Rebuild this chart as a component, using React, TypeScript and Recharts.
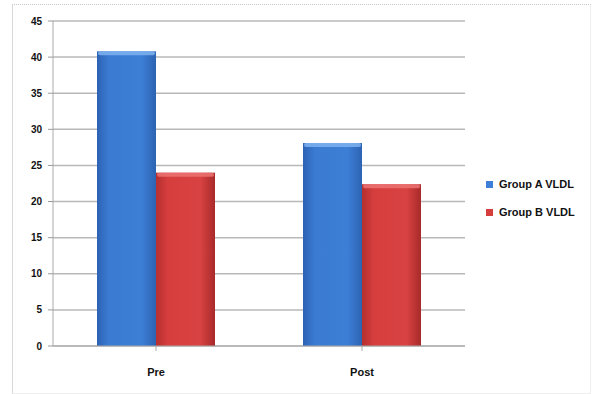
import { BarChart, Bar, XAxis, YAxis, CartesianGrid } from "recharts";

// Pre / Post VLDL values for the two groups
const categories = ["Pre", "Post"];
const groupA = [40.8, 28.1];
const groupB = [24.0, 22.4];
const seriesNames = ["Group A VLDL", "Group B VLDL"];
const yTicks = [0, 5, 10, 15, 20, 25, 30, 35, 40, 45];

const data = categories.map((name, i) => ({ name, a: groupA[i], b: groupB[i] }));

const FONT = '"Liberation Sans", Arial, sans-serif';

// Excel-style bar: horizontal gradient body plus a lighter bevel on top
function BevelBar(props: any) {
  const { x, y, width, height, gid, cap } = props;
  if (!height || height <= 0) return null;
  return (
    <g>
      <rect x={x} y={y} width={width} height={height} fill={`url(#${gid})`} />
      <rect x={x + 1} y={y} width={width - 2} height={4} rx={2} fill={cap} opacity={0.85} />
    </g>
  );
}

export default function App() {
  return (
    <div style={{ position: "absolute", left: 0, top: 0, width: 592, height: 394, background: "#fff", fontFamily: FONT }}>
      {/* light dotted frame around the chart area */}
      <div
        style={{
          position: "absolute",
          left: 12,
          top: 4,
          width: 577,
          height: 388,
          borderTop: "1px dotted #c8c8c8",
          borderLeft: "1px solid #d8d8d8",
          borderRight: "1px solid #eee",
          borderBottom: "1px solid #eee",
        }}
      />
      <div style={{ position: "absolute", left: 0, top: 0 }}>
        <BarChart
          width={592}
          height={394}
          data={data}
          margin={{ top: 21, right: 127, left: 8, bottom: 18 }}
          barCategoryGap={44}
          barGap={0}
        >
          <defs>
            <linearGradient id="gA" x1="0" y1="0" x2="1" y2="0">
              <stop offset="0%" stopColor="#2c62b4" />
              <stop offset="20%" stopColor="#3b7bd2" />
              <stop offset="75%" stopColor="#3d7fd6" />
              <stop offset="100%" stopColor="#2d63b2" />
            </linearGradient>
            <linearGradient id="gB" x1="0" y1="0" x2="1" y2="0">
              <stop offset="0%" stopColor="#b52f2f" />
              <stop offset="20%" stopColor="#d63e3e" />
              <stop offset="75%" stopColor="#d94242" />
              <stop offset="100%" stopColor="#a92a2a" />
            </linearGradient>
          </defs>
          <CartesianGrid vertical={false} stroke="#b8b8b8" strokeWidth={1.5} />
          <XAxis
            dataKey="name"
            stroke="#aaa"
            tickLine={{ stroke: "#aaa" }}
            tickSize={5}
            height={30}
            interval={0}
            tick={{ fill: "#111", fontSize: 11, fontWeight: 700, fontFamily: FONT, dy: 15 }}
          />
          <YAxis
            domain={[0, 45]}
            ticks={yTicks}
            width={45}
            stroke="#aaa"
            tickSize={5}
            tickLine={{ stroke: "#999" }}
            interval={0}
            tick={{ fill: "#111", fontSize: 10, fontWeight: 700, fontFamily: FONT, dx: -4 }}
          />
          <Bar
            dataKey="a"
            name={seriesNames[0]}
            isAnimationActive={false}
            shape={(p: any) => <BevelBar {...p} gid="gA" cap="#7fb3f0" />}
          />
          <Bar
            dataKey="b"
            name={seriesNames[1]}
            isAnimationActive={false}
            shape={(p: any) => <BevelBar {...p} gid="gB" cap="#ec7373" />}
          />
        </BarChart>
      </div>
      {/* legend */}
      {seriesNames.map((n, i) => (
        <div
          key={n}
          style={{
            position: "absolute",
            left: 486,
            top: 178 + i * 28,
            display: "flex",
            alignItems: "center",
            fontSize: 11,
            fontWeight: 700,
            color: "#111",
            whiteSpace: "nowrap",
          }}
        >
          <span
            style={{
              display: "inline-block",
              width: 7,
              height: 7,
              marginRight: 6,
              background: i === 0 ? "#3d7fd6" : "#d63e3e",
            }}
          />
          {n}
        </div>
      ))}
    </div>
  );
}
